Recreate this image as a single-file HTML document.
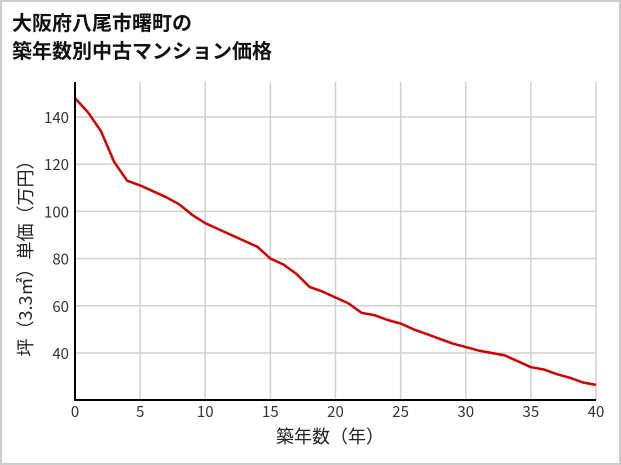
<!DOCTYPE html>
<html><head><meta charset="utf-8"><style>
body{margin:0;background:#fff;}
svg{display:block;font-family:"Noto Sans CJK JP","Liberation Sans",sans-serif;}
</style></head><body>
<svg id="s" width="621" height="465" xmlns="http://www.w3.org/2000/svg">
<rect x="1" y="1" width="619" height="463" fill="#fff" stroke="#ccc" stroke-width="2"/>
<text x="12" y="30" font-size="20" font-weight="bold" fill="#111">大阪府八尾市曙町の</text>
<text x="12" y="58" font-size="20" font-weight="bold" fill="#111">築年数別中古マンション価格</text>
<g id="g"></g>
<text x="330" y="443" font-size="18" text-anchor="middle" fill="#222">築年数（年）</text>
<text transform="translate(32,254) rotate(-90)" font-size="18" text-anchor="middle" fill="#222">坪（3.3㎡）単価（万円）</text>
</svg>
<script>
var g=document.getElementById('g'),h='';
function X(v){return 75+v*13.025}function Y(v){return 447.4-v*2.36}
for(var i=5;i<=40;i+=5)h+='<line x1="'+X(i)+'" x2="'+X(i)+'" y1="82" y2="400" stroke="#d0d0d0" stroke-width="1.5"/>';
for(var v=40;v<=140;v+=20)h+='<line x1="75" x2="596" y1="'+Y(v)+'" y2="'+Y(v)+'" stroke="#d0d0d0" stroke-width="1.5"/><text x="69" y="'+(Y(v)+6)+'" font-size="15" text-anchor="end" fill="#333">'+v+'</text>';
for(var i=0;i<=40;i+=5)h+='<text x="'+X(i)+'" y="417" font-size="15" text-anchor="middle" fill="#333">'+i+'</text>';
var d=[148,142,134,121,113,111,108.5,106,103,98.5,95,92.5,90,87.5,85,80,77.5,73.5,68,66,63.5,61,57,56,54,52.5,50,48,46,44,42.5,41,40,39,36.5,34,33,31,29.5,27.5,26.5];
var p=d.map(function(v,i){return X(i).toFixed(1)+','+Y(v).toFixed(1)}).join(' ');
h+='<polyline points="'+p+'" fill="none" stroke="#cc0000" stroke-width="2.5" stroke-linejoin="round"/>';
h+='<line x1="75" x2="75" y1="82" y2="400" stroke="#000" stroke-width="2"/><line x1="74" x2="596" y1="400" y2="400" stroke="#000" stroke-width="2"/>';
g.innerHTML=h;
</script>
</body></html>
